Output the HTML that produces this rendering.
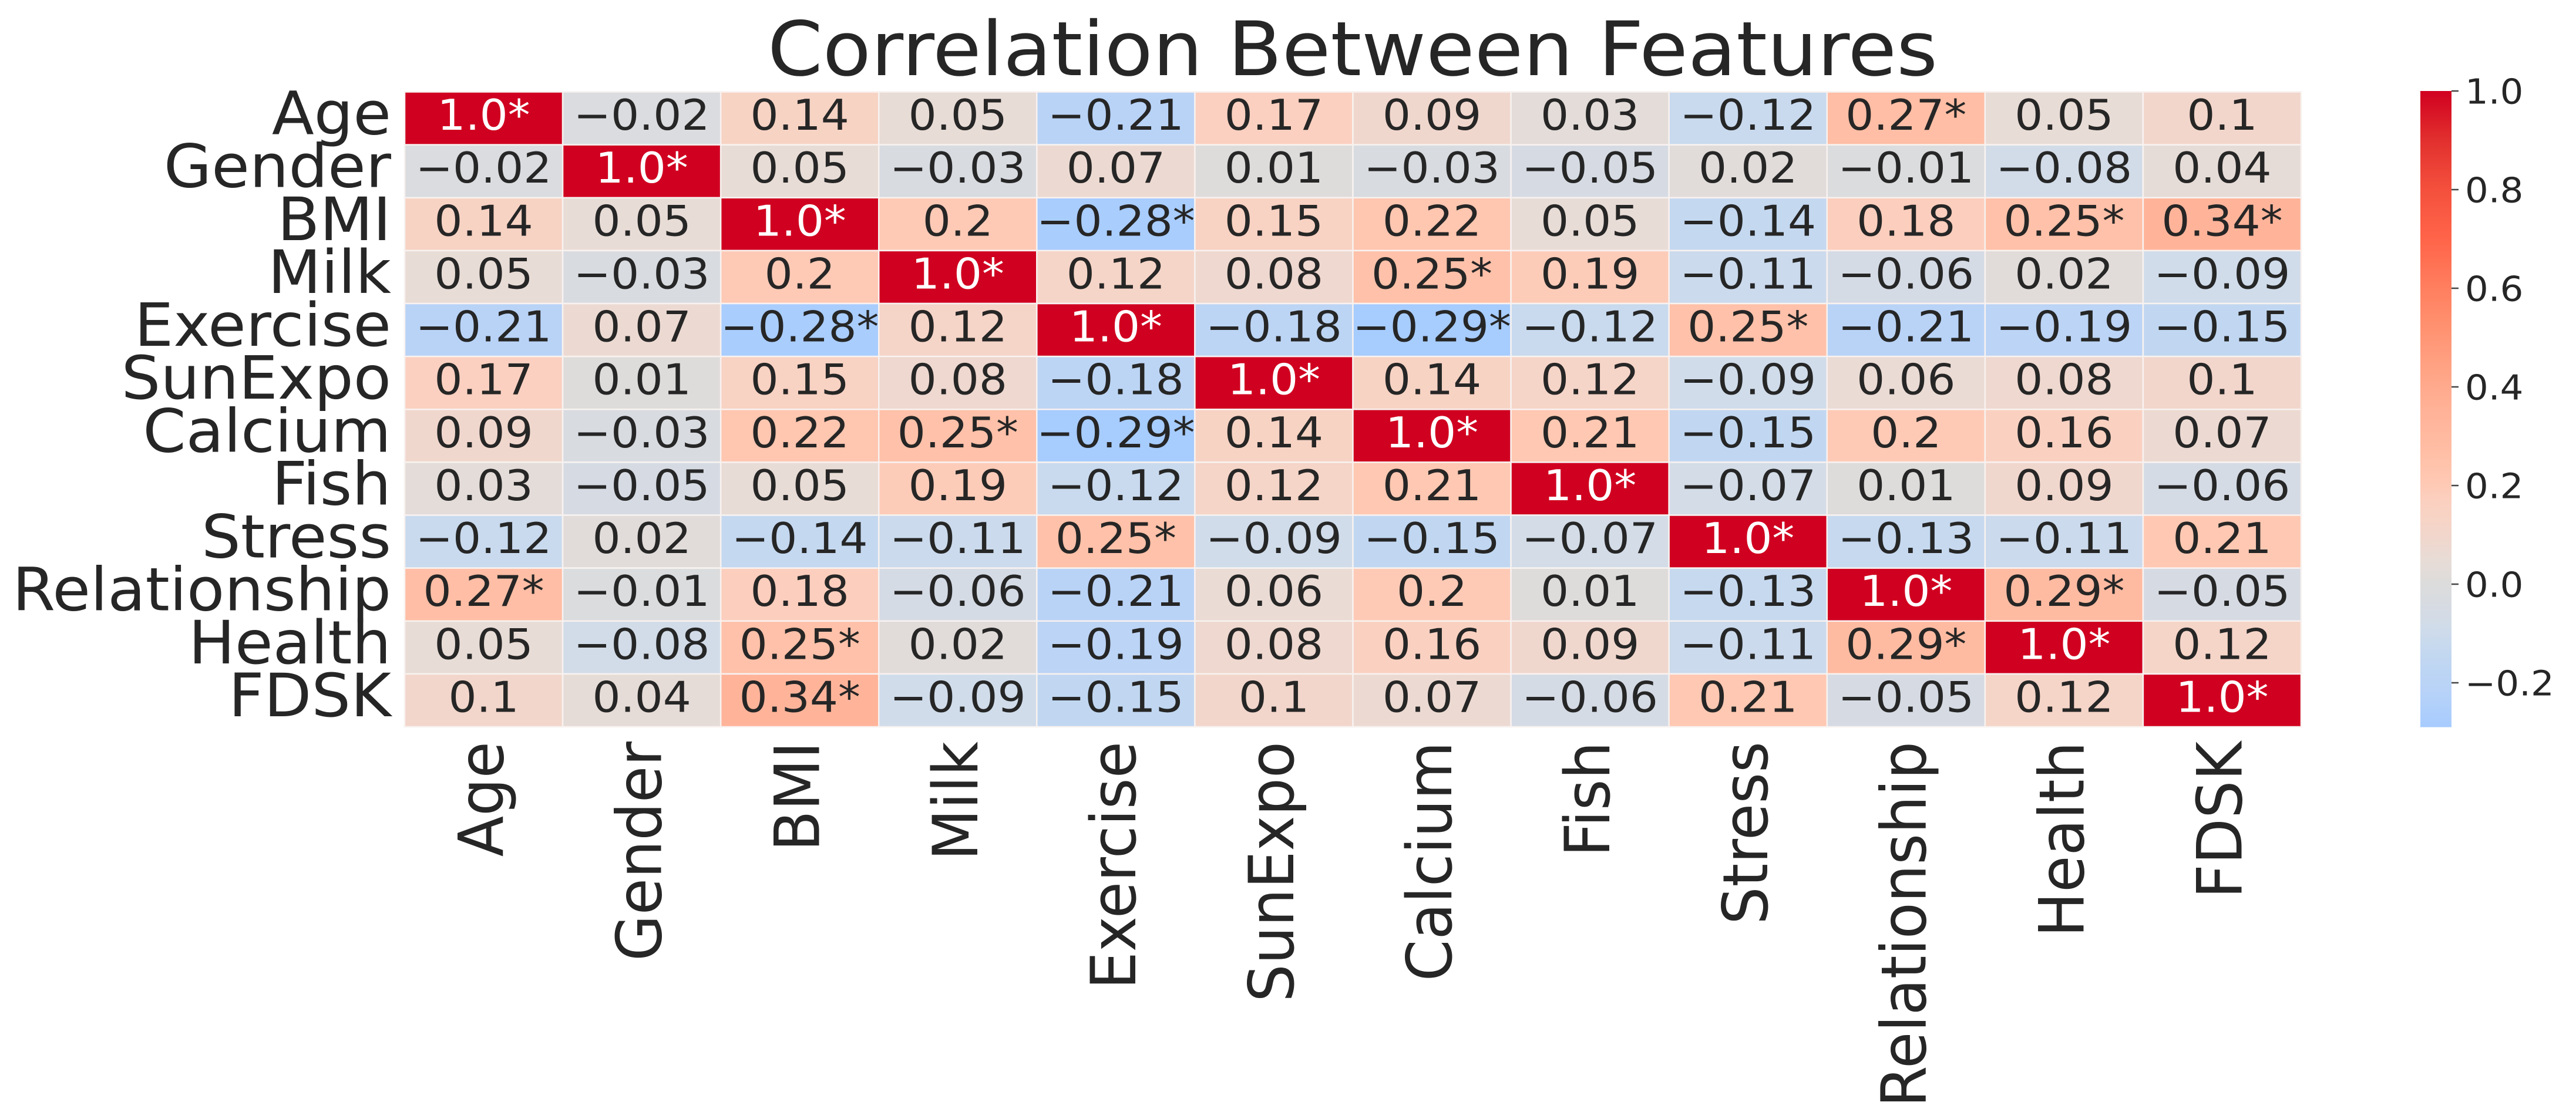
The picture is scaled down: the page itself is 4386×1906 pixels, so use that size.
<!DOCTYPE html>
<html lang="en">
<head>
<meta charset="utf-8">
<title>Correlation Between Features</title>
<style>
html,body{margin:0;padding:0;background:#fff;}
svg{display:block;}
text{font-family:"DejaVu Sans","Liberation Sans",sans-serif;fill:#262626;}
</style>
</head>
<body>
<svg id="chart" xmlns="http://www.w3.org/2000/svg" width="4386" height="1906" viewBox="0 0 4386 1906">
  <rect x="0" y="0" width="4386" height="1906" fill="#ffffff"/>
  <defs id="defs"></defs>
  <text transform="translate(2303,128) scale(1.05,1)" font-size="128" text-anchor="middle">Correlation Between Features</text>
  <g id="cells"></g>
  <g id="ylabels"></g>
  <g id="xlabels"></g>
  <g id="colorbar"></g>
</svg>
<script>
const features = ["Age","Gender","BMI","Milk","Exercise","SunExpo","Calcium","Fish","Stress","Relationship","Health","FDSK"];
const rowAge = [1.0,-0.02,0.14,0.05,-0.21,0.17,0.09,0.03,-0.12,0.27,0.05,0.1];
const rowGender = [-0.02,1.0,0.05,-0.03,0.07,0.01,-0.03,-0.05,0.02,-0.01,-0.08,0.04];
const rowBMI = [0.14,0.05,1.0,0.2,-0.28,0.15,0.22,0.05,-0.14,0.18,0.25,0.34];
const rowMilk = [0.05,-0.03,0.2,1.0,0.12,0.08,0.25,0.19,-0.11,-0.06,0.02,-0.09];
const rowExercise = [-0.21,0.07,-0.28,0.12,1.0,-0.18,-0.29,-0.12,0.25,-0.21,-0.19,-0.15];
const rowSunExpo = [0.17,0.01,0.15,0.08,-0.18,1.0,0.14,0.12,-0.09,0.06,0.08,0.1];
const rowCalcium = [0.09,-0.03,0.22,0.25,-0.29,0.14,1.0,0.21,-0.15,0.2,0.16,0.07];
const rowFish = [0.03,-0.05,0.05,0.19,-0.12,0.12,0.21,1.0,-0.07,0.01,0.09,-0.06];
const rowStress = [-0.12,0.02,-0.14,-0.11,0.25,-0.09,-0.15,-0.07,1.0,-0.13,-0.11,0.21];
const rowRelationship = [0.27,-0.01,0.18,-0.06,-0.21,0.06,0.2,0.01,-0.13,1.0,0.29,-0.05];
const rowHealth = [0.05,-0.08,0.25,0.02,-0.19,0.08,0.16,0.09,-0.11,0.29,1.0,0.12];
const rowFDSK = [0.1,0.04,0.34,-0.09,-0.15,0.1,0.07,-0.06,0.21,-0.05,0.12,1.0];
const matrix = [rowAge,rowGender,rowBMI,rowMilk,rowExercise,rowSunExpo,rowCalcium,rowFish,rowStress,rowRelationship,rowHealth,rowFDSK];
const colorbarTicks = [1.0,0.8,0.6,0.4,0.2,0.0,-0.2];
const colorbarMin = -0.29;
const colorbarMax = 1.0;
const colorValues = [-0.29,-0.21,-0.15,-0.09,-0.05,0,0.05,0.1,0.14,0.17,0.21,0.27,0.34,0.4,0.5,0.6,0.7,0.8,0.9,1.0];
const colorHexes = ["#a7ccfe","#b9d3f7","#c1d7f1","#d0dcea","#d6dbe3","#dcdcdc","#e8dcd6","#f2d6cb","#f7d3c4","#fbd0c0","#ffc8b2","#ffbea5","#ffb49a","#ffaa8d","#ff9675","#ff7f5f","#ff6449","#f4503d","#e2302e","#d00020"];

const NS = "http://www.w3.org/2000/svg";
const plotLeft = 689, plotRight = 3918, plotTop = 156.5, plotBottom = 1238;
const cbLeft = 4121, cbRight = 4174, cbZeroY = 995, cbPerUnit = 840, cbTickEnd = 4186;
const cellW = (plotRight - plotLeft) / features.length;
const cellH = (plotBottom - plotTop) / features.length;

function xScale(i){ return plotLeft + i * cellW; }
function yScale(i){ return plotTop + i * cellH; }
function cbScale(v){ return cbZeroY - v * cbPerUnit; }
function hexToRgb(h){ return [1,3,5].map(function(p){ return parseInt(h.substr(p,2),16); }); }
function colorFor(v){
  const n = colorValues.length;
  if (v <= colorValues[0]) return colorHexes[0];
  if (v >= colorValues[n-1]) return colorHexes[n-1];
  for (let k = 0; k < n-1; k++) {
    if (v <= colorValues[k+1]) {
      const t = (v - colorValues[k]) / (colorValues[k+1] - colorValues[k]);
      const a = hexToRgb(colorHexes[k]), b = hexToRgb(colorHexes[k+1]);
      return "rgb(" + a.map(function(c,j){ return Math.round(c + (b[j]-c)*t); }).join(",") + ")";
    }
  }
  return colorHexes[n-1];
}
function formatValue(v){
  let s = String(Math.round(Math.abs(v)*100)/100);
  if (s.indexOf(".") < 0) s += ".0";
  return (v < 0 ? "\u2212" : "") + s;
}
function make(tag, attrs, parent){
  const el = document.createElementNS(NS, tag);
  for (const k in attrs) el.setAttribute(k, attrs[k]);
  parent.appendChild(el);
  return el;
}

const cellsG = document.getElementById("cells");
matrix.forEach(function(row, r){
  row.forEach(function(v, c){
    const rect = make("rect", {x:xScale(c), y:yScale(r), width:cellW, height:cellH, fill:colorFor(v), stroke:"#f8f2f0", "stroke-width":2.5}, cellsG);
    
    
    const tx = xScale(c)+cellW/2, ty = yScale(r)+cellH/2+19.5;
    const t = make("text", {transform:"translate("+tx+","+ty+") scale(1.05,1)", "font-size":72, "text-anchor":"middle"}, cellsG);
    
    
    t.textContent = formatValue(v) + (Math.abs(v) >= 0.25 ? "*" : "");
    t.style.fill = v >= 0.7 ? "#ffffff" : "#262626";
  });
});

const yG = document.getElementById("ylabels");
features.forEach(function(name, i){
  const ty = yScale(i)+cellH/2+27;
  const t = make("text", {transform:"translate(666,"+ty+") scale(1.03,1)", "font-size":102, "text-anchor":"end"}, yG);
  
  
  t.textContent = name;
});

const xG = document.getElementById("xlabels");
features.forEach(function(name, i){
  const px = xScale(i)+cellW/2+33;
  const t = make("text", {transform:"translate("+px+",1263) scale(1.05,1) rotate(-90)", "font-size":101.5, "text-anchor":"end"}, xG);
  
  
  t.textContent = name;
});

const defs = document.getElementById("defs");
const grad = make("linearGradient", {id:"cbGrad", x1:0, y1:0, x2:0, y2:1}, defs);
for (let k = 0; k <= 80; k++) {
  const v = colorbarMax - (colorbarMax - colorbarMin) * k / 80;
  make("stop", {offset:(k/80*100)+"%", "stop-color":colorFor(v)}, grad);
}
const cbG = document.getElementById("colorbar");
const cbRect = make("rect", {x:cbLeft, y:cbScale(colorbarMax), width:cbRight-cbLeft, height:cbScale(colorbarMin)-cbScale(colorbarMax), fill:"url(#cbGrad)"}, cbG);


colorbarTicks.forEach(function(v){
  const y = cbScale(v);
  const l = make("line", {x1:cbRight, x2:cbTickEnd, y1:y, y2:y, stroke:"#444444", "stroke-width":2.5}, cbG);
  
  
  const ty = y+21.5;
  const t = make("text", {transform:"translate(4197,"+ty+") scale(1.06,1)", "font-size":59}, cbG);
  
  
  t.textContent = (v < 0 ? "\u2212" : "") + Math.abs(v).toFixed(1);
});
</script>
</body>
</html>
